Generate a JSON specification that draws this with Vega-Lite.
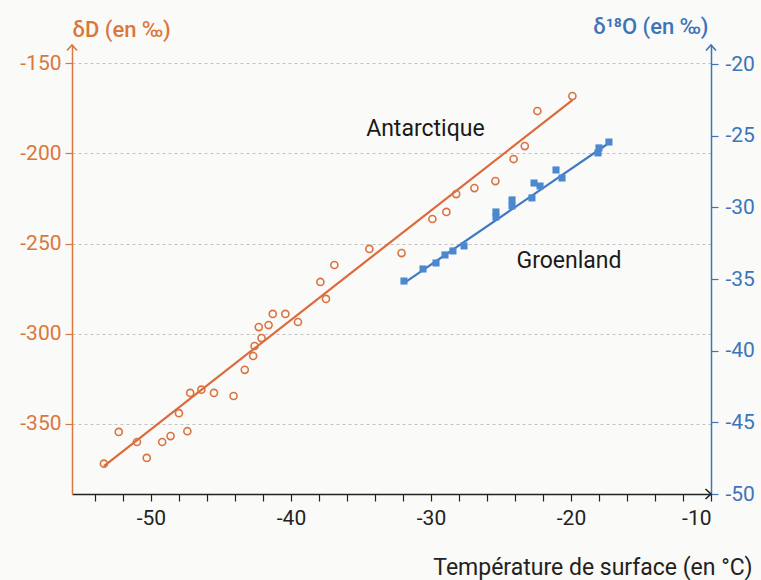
{
  "$schema": "https://vega.github.io/schema/vega-lite/v6.json",
  "width": 639,
  "height": 449,
  "autosize": {"type": "none"},
  "padding": {"left": 72, "top": 45, "right": 50, "bottom": 86},
  "background": "#fafaf8",
  "config": {
    "view": {"stroke": null},
    "font": "Roboto",
    "axis": {"labelFont": "Roboto", "titleFont": "Roboto", "labelOverlap": false},
    "axisX": {
      "labelOverlap": false,
      "values": [-54, -52, -50, -48, -46, -44, -42, -40, -38, -36, -34, -32, -30, -28, -26, -24, -22, -20, -18, -16, -14, -12, -10],
      "labelExpr": "datum.value % 10 === 0 ? '' + datum.value : ''",
      "grid": false,
      "domainColor": "#222222", "domainWidth": 1.5,
      "tickColor": "#222222", "tickSize": 7, "tickWidth": 1.2,
      "labelFontSize": 21, "labelColor": "#222222", "labelPadding": 6,
      "titleFontSize": 23, "titleFontWeight": "normal", "titleColor": "#222222",
      "titleAlign": "right", "titleX": 680, "titleY": 80, "titleBaseline": "alphabetic"
    }
  },
  "datasets": {
    "antarctique": [
      {"t": -53.36, "dD": -372.0}, {"t": -52.3, "dD": -354.4}, {"t": -51.0, "dD": -360.0},
      {"t": -50.3, "dD": -368.8}, {"t": -49.2, "dD": -360.0}, {"t": -48.6, "dD": -356.7},
      {"t": -48.0, "dD": -344.0}, {"t": -47.4, "dD": -354.0}, {"t": -47.2, "dD": -332.8},
      {"t": -46.4, "dD": -331.0}, {"t": -45.5, "dD": -332.8}, {"t": -44.1, "dD": -334.5},
      {"t": -43.3, "dD": -320.0}, {"t": -42.7, "dD": -312.3}, {"t": -42.6, "dD": -306.8},
      {"t": -42.3, "dD": -296.3}, {"t": -42.1, "dD": -302.4}, {"t": -41.6, "dD": -295.2},
      {"t": -41.3, "dD": -289.0}, {"t": -40.4, "dD": -289.0}, {"t": -39.5, "dD": -293.5},
      {"t": -37.9, "dD": -271.3}, {"t": -37.5, "dD": -280.7}, {"t": -36.9, "dD": -261.9},
      {"t": -34.4, "dD": -253.0}, {"t": -32.1, "dD": -255.3}, {"t": -29.9, "dD": -236.4},
      {"t": -28.9, "dD": -232.5}, {"t": -28.2, "dD": -222.6}, {"t": -26.9, "dD": -219.3},
      {"t": -25.4, "dD": -215.4}, {"t": -24.1, "dD": -203.2}, {"t": -23.3, "dD": -196.0},
      {"t": -22.4, "dD": -176.6}, {"t": -19.9, "dD": -168.3}
    ],
    "antarctique_fit": [
      {"t": -53.36, "dD": -373.3}, {"t": -19.9, "dD": -170.5}
    ],
    "groenland": [
      {"t": -31.93, "d18O": -35.14}, {"t": -30.57, "d18O": -34.30}, {"t": -29.64, "d18O": -33.88},
      {"t": -29.0, "d18O": -33.32}, {"t": -28.43, "d18O": -33.04}, {"t": -27.64, "d18O": -32.69},
      {"t": -25.36, "d18O": -30.32}, {"t": -25.36, "d18O": -30.67}, {"t": -24.21, "d18O": -29.48},
      {"t": -24.21, "d18O": -29.90}, {"t": -22.79, "d18O": -29.34}, {"t": -22.64, "d18O": -28.30},
      {"t": -22.21, "d18O": -28.51}, {"t": -21.07, "d18O": -27.39}, {"t": -20.64, "d18O": -27.95},
      {"t": -18.07, "d18O": -26.20}, {"t": -18.0, "d18O": -25.85}, {"t": -17.29, "d18O": -25.44}
    ],
    "groenland_fit": [
      {"t": -31.93, "d18O": -35.28}, {"t": -17.29, "d18O": -25.51}
    ]
  },
  "layer": [
    {
      "layer": [
        {
          "data": {"name": "antarctique_fit"},
          "mark": {"type": "line", "color": "#dc6a3c", "strokeWidth": 2.2},
          "encoding": {
            "x": {
              "field": "t", "type": "quantitative",
              "scale": {"domain": [-55.64, -10], "nice": false, "zero": false},
              "axis": {"title": "Température de surface (en °C)", "labelOverlap": false}
            },
            "y": {
              "field": "dD", "type": "quantitative",
              "scale": {"domain": [-388.8, -140], "nice": false, "zero": false},
              "axis": {
                "title": "δD (en ‰)",
                "values": [-350, -300, -250, -200, -150],
                "labelExpr": "'' + datum.value",
                "labelOverlap": false,
                "grid": true, "gridDash": [3, 3], "gridColor": "#c2c2c2", "gridWidth": 1,
                "domainColor": "#d9773f", "domainWidth": 1.5,
                "tickColor": "#d9773f", "tickSize": 7, "tickWidth": 1.2,
                "labelColor": "#d9773f", "labelFontSize": 21, "labelPadding": 4,
                "titleAngle": 0, "titleAlign": "left", "titleX": 0, "titleY": -9,
                "titleBaseline": "alphabetic", "titleColor": "#d9773f",
                "titleFontSize": 22, "titleFontWeight": 500
              }
            }
          }
        },
        {
          "data": {"name": "antarctique"},
          "mark": {"type": "point", "shape": "circle", "filled": false, "stroke": "#d9733f", "strokeWidth": 1.6, "size": 50, "opacity": 1},
          "encoding": {
            "x": {"field": "t", "type": "quantitative", "axis": {"title": "Température de surface (en °C)", "labelOverlap": false}},
            "y": {"field": "dD", "type": "quantitative"}
          }
        },
        {
          "data": {"values": [{"label": "Antarctique"}]},
          "mark": {"type": "text", "fontSize": 23, "color": "#1a1a1a", "align": "center", "baseline": "alphabetic"},
          "encoding": {
            "x": {"datum": -30.4, "type": "quantitative", "axis": {"title": "Température de surface (en °C)", "labelOverlap": false}},
            "y": {"datum": -190.4, "type": "quantitative"},
            "text": {"field": "label"}
          }
        },
        {
          "data": {"values": [{}]},
          "mark": {"type": "point", "shape": "M-1,1.1L0,0L1,1.1", "filled": false, "stroke": "#d9773f", "strokeWidth": 1.6, "size": 100, "opacity": 1},
          "encoding": {
            "x": {"datum": -55.64, "type": "quantitative", "axis": {"title": "Température de surface (en °C)", "labelOverlap": false}},
            "y": {"datum": -140, "type": "quantitative"}
          }
        },
        {
          "data": {"values": [{}]},
          "mark": {"type": "point", "shape": "M-1.1,-1L0,0L-1.1,1", "filled": false, "stroke": "#222222", "strokeWidth": 1.6, "size": 100, "opacity": 1},
          "encoding": {
            "x": {"datum": -10, "type": "quantitative", "axis": {"title": "Température de surface (en °C)", "labelOverlap": false}},
            "y": {"datum": -388.8, "type": "quantitative"}
          }
        }
      ]
    },
    {
      "layer": [
        {
          "data": {"name": "groenland_fit"},
          "mark": {"type": "line", "color": "#3f79c6", "strokeWidth": 2.2},
          "encoding": {
            "x": {"field": "t", "type": "quantitative", "axis": {"title": "Température de surface (en °C)", "labelOverlap": false}},
            "y": {
              "field": "d18O", "type": "quantitative",
              "scale": {"domain": [-50, -18.67], "nice": false, "zero": false},
              "axis": {
                "orient": "right",
                "title": "δ¹⁸O (en ‰)",
                "values": [-50, -45, -40, -35, -30, -25, -20],
                "labelExpr": "'' + datum.value",
                "labelOverlap": false,
                "grid": false,
                "domainColor": "#3e74b9", "domainWidth": 1.5,
                "tickColor": "#3e74b9", "tickSize": 7, "tickWidth": 1.2,
                "labelColor": "#3e74b9", "labelFontSize": 21, "labelPadding": 7,
                "titleAngle": 0, "titleAlign": "right", "titleX": -3, "titleY": -12,
                "titleBaseline": "alphabetic", "titleColor": "#3e74b9",
                "titleFontSize": 22, "titleFontWeight": 500
              }
            }
          }
        },
        {
          "data": {"name": "groenland"},
          "mark": {"type": "point", "shape": "square", "filled": true, "color": "#4a88d0", "size": 50, "opacity": 1},
          "encoding": {
            "x": {"field": "t", "type": "quantitative", "axis": {"title": "Température de surface (en °C)", "labelOverlap": false}},
            "y": {"field": "d18O", "type": "quantitative"}
          }
        },
        {
          "data": {"values": [{"label": "Groenland"}]},
          "mark": {"type": "text", "fontSize": 23, "color": "#1a1a1a", "align": "center", "baseline": "alphabetic"},
          "encoding": {
            "x": {"datum": -20.14, "type": "quantitative", "axis": {"title": "Température de surface (en °C)", "labelOverlap": false}},
            "y": {"datum": -34.23, "type": "quantitative"},
            "text": {"field": "label"}
          }
        },
        {
          "data": {"values": [{}]},
          "mark": {"type": "point", "shape": "M-1,1.1L0,0L1,1.1", "filled": false, "stroke": "#3e74b9", "strokeWidth": 1.6, "size": 100, "opacity": 1},
          "encoding": {
            "x": {"datum": -10, "type": "quantitative", "axis": {"title": "Température de surface (en °C)", "labelOverlap": false}},
            "y": {"datum": -18.67, "type": "quantitative"}
          }
        }
      ]
    }
  ],
  "resolve": {"scale": {"y": "independent"}}
}
